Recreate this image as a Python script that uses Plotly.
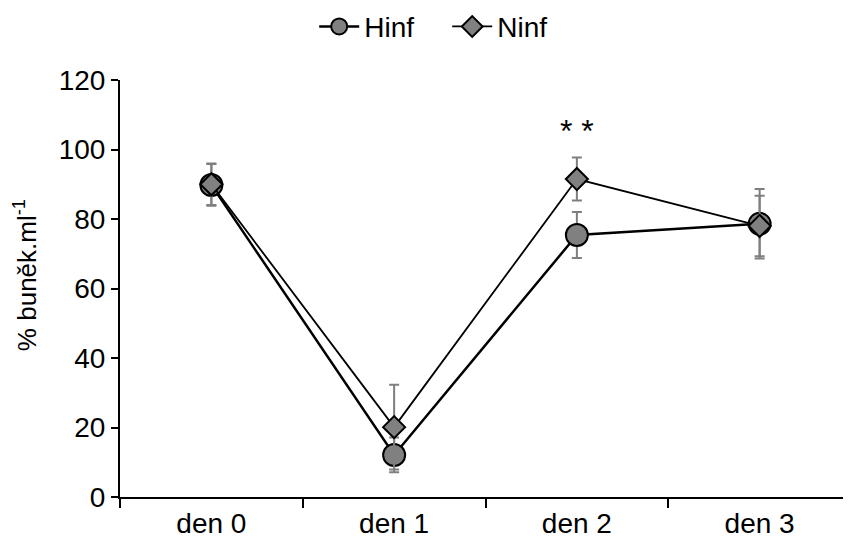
import plotly.graph_objects as go

categories = ["den 0", "den 1", "den 2", "den 3"]
hinf = [89.8, 12.1, 75.4, 78.6]
hinf_err = [6.0, 5.0, 6.6, 10.0]
ninf = [90.0, 20.1, 91.5, 78.0]
ninf_err = [6.0, 12.2, 6.2, 8.7]
y_ticks = [0, 20, 40, 60, 80, 100, 120]

fig = go.Figure()
fig.add_trace(go.Scatter(
    x=categories, y=hinf, name="Hinf", mode="lines+markers",
    line=dict(color="black", width=2.5),
    marker=dict(symbol="circle", size=22, color="#808080",
                line=dict(color="black", width=2)),
    error_y=dict(type="data", array=hinf_err, color="#7f7f7f",
                 thickness=2, width=5),
))
fig.add_trace(go.Scatter(
    x=categories, y=ninf, name="Ninf", mode="lines+markers",
    line=dict(color="black", width=1.8),
    marker=dict(symbol="diamond", size=17, color="#808080",
                line=dict(color="black", width=2)),
    error_y=dict(type="data", array=ninf_err, color="#7f7f7f",
                 thickness=2, width=5),
))
fig.add_annotation(x="den 2", y=105.2, text="* *", showarrow=False,
                   font=dict(size=32, color="black"))
fig.add_annotation(xref="paper", yref="paper", x=-0.130, y=0.532,
                   text="% buněk.ml<sup>-1</sup>", textangle=-90,
                   showarrow=False, xanchor="center", yanchor="middle",
                   font=dict(size=26, color="black"))

fig.update_layout(
    width=843, height=536,
    margin=dict(l=112, r=0, t=72, b=47),
    paper_bgcolor="white", plot_bgcolor="white",
    font=dict(family="Liberation Sans, Arial", size=28, color="black"),
    showlegend=True,
    legend=dict(orientation="h", x=0.521, xref="container", xanchor="center",
                y=0.965, yref="container", yanchor="middle",
                font=dict(size=28), itemwidth=40, entrywidth=78),
    xaxis=dict(type="category", range=[-0.5, 3.5], showline=True,
               linecolor="black", linewidth=2, ticks="outside",
               tickson="boundaries", ticklen=9, tickwidth=2,
               tickcolor="black", showgrid=False, zeroline=False,
               automargin=False, tickfont=dict(size=28)),
    yaxis=dict(range=[0, 120], tickvals=y_ticks, showline=True,
               linecolor="black", linewidth=2, ticks="outside",
               ticklen=7, tickwidth=2, tickcolor="black",
               showgrid=False, zeroline=False, automargin=False,
               tickfont=dict(size=28)),
)
fig.write_html("out.html")
